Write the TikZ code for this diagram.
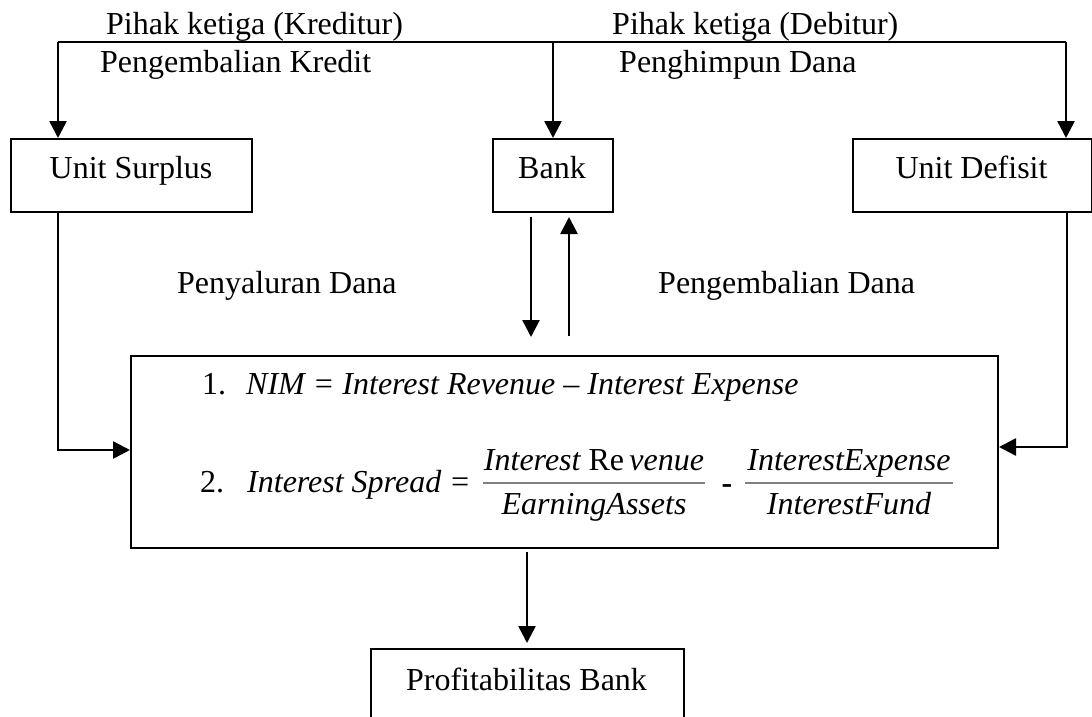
\documentclass[tikz,border=0pt]{standalone}
\usepackage{fontspec}
\setmainfont{Liberation Serif}
\usetikzlibrary{arrows.meta}
\begin{document}
\begin{tikzpicture}[x=1pt,y=-1pt,
  every node/.style={font=\fontsize{32}{38}\selectfont, inner sep=0pt},
  box/.style={draw, line width=2pt, inner sep=0pt, anchor=north west},
  conn/.style={line width=2.6pt},
  arr/.style={conn, -{Triangle[length=17pt,width=17pt]}},
  lbl/.style={anchor=base west},
  frac/.style={draw=gray, line width=2.5pt}]
\clip (0,0) rectangle (1092,717);
\fill[white] (0,0) rectangle (1092,717);
% boxes
\node[box, minimum width=241pt, minimum height=73pt] (surplus) at (10,138) {};
\node[box, minimum width=120pt, minimum height=73pt] (bank) at (492,138) {};
\node[box, minimum width=239pt, minimum height=73pt] (defisit) at (852,138) {};
\node[box, minimum width=867pt, minimum height=192pt] (formula) at (130,355) {};
\node[box, minimum width=313pt, minimum height=80pt] (profit) at (370,648) {};
% box texts
\node[anchor=base] (surplustext) at (131,178) {Unit Surplus};
\node[anchor=base] (banktext) at (552,178) {Bank};
\node[anchor=base] (defisittext) at (971.5,178) {Unit Defisit};
\node[anchor=base] (profittext) at (526.5,690) {Profitabilitas Bank};
% top distribution line
\coordinate (tl) at (58,42);
\coordinate (tr) at (1066,42);
\draw[conn] (tl) -- (tr);
\draw[arr] (tl) -- (tl |- surplus.north);
\draw[arr] (bank.north |- tl) -- (bank.north);
\draw[arr] (tr) -- (tr |- defisit.north);
% side flows
\coordinate (lc) at (58,450);
\draw[arr] (lc |- surplus.south) -- (lc) -- (lc -| formula.west);
\coordinate (rc) at (1067,447);
\draw[arr] (rc |- defisit.south) -- (rc) -- (rc -| formula.east);
% bank flows
\coordinate (bd) at (531,337);
\draw[arr, shorten <=4pt] (bank.south -| bd) -- (bd);
\coordinate (bu) at (569,336);
\draw[arr, shorten >=4pt] (bu) -- (bu |- bank.south);
% to profitability
\coordinate (pd) at (527,547);
\draw[arr, shorten <=5pt, shorten >=5pt] (pd) -- (pd |- profit.north);
% labels
\node[lbl] (k1) at (106,35) {Pihak ketiga (Kreditur)};
\node[lbl] (k2) at (100,72) {Pengembalian Kredit};
\node[lbl] (d1) at (612,35) {Pihak ketiga (Debitur)};
\node[lbl] (d2) at (619,72) {Penghimpun Dana};
\node[lbl] (pyd) at (177,293) {Penyaluran Dana};
\node[lbl] (pgd) at (658,293) {Pengembalian Dana};
% formulas
\node[lbl] (n1) at (202,394) {1.};
\node[lbl] (f1) at (246,394) {\itshape NIM = Interest Revenue -- Interest Expense};
\node[lbl] (n2) at (200,492) {2.};
\node[lbl] (f2) at (247,492) {\itshape Interest Spread =};
\node[anchor=base] (num1) at (594,470) {\itshape Interest \upshape Re\,\itshape venue};
\node[anchor=base] (den1) at (594,514) {\itshape EarningAssets};
\draw[frac] (483,483) -- (705,483);
\node[anchor=base] (minus) at (727,493) {\bfseries -};
\node[anchor=base] (num2) at (849,470) {\itshape InterestExpense};
\node[anchor=base] (den2) at (849,514) {\itshape InterestFund};
\draw[frac] (745,483) -- (953,483);
\end{tikzpicture}
\end{document}
